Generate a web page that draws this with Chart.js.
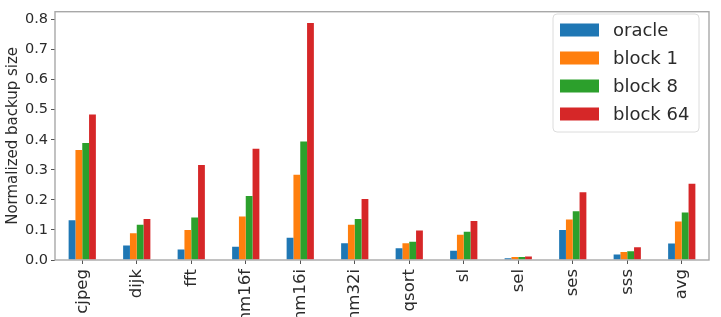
<!DOCTYPE html>
<html>
<head>
<meta charset="utf-8">
<script src="https://cdn.jsdelivr.net/npm/chart.js@4"></script>
<style>
  html, body { margin: 0; padding: 0; background: #fff; overflow: hidden; }
  canvas { display: block; }
</style>
</head>
<body>
<canvas id="c" width="721" height="317"></canvas>
<script>
const categories = ["cjpeg", "dijk", "fft", "nm16f", "nm16i", "nm32i", "qsort", "sl", "sel", "ses", "sss", "avg"];
const oracle  = [0.132, 0.048, 0.035, 0.044, 0.074, 0.056, 0.039, 0.031, 0.006, 0.100, 0.018, 0.055];
const block1  = [0.366, 0.089, 0.100, 0.145, 0.284, 0.117, 0.056, 0.084, 0.010, 0.135, 0.027, 0.128];
const block8  = [0.389, 0.117, 0.141, 0.213, 0.394, 0.136, 0.061, 0.094, 0.010, 0.162, 0.029, 0.158];
const block64 = [0.484, 0.136, 0.316, 0.370, 0.788, 0.203, 0.098, 0.130, 0.012, 0.225, 0.042, 0.254];
const seriesNames = ["oracle", "block 1", "block 8", "block 64"];
const yTicks = [0.0, 0.1, 0.2, 0.3, 0.4, 0.5, 0.6, 0.7, 0.8];
const yTitle = "Normalized backup size";

const colors = ["#1f77b4", "#ff7f0e", "#2ca02c", "#d62728"];
const FONT = "'DejaVu Sans', sans-serif";
const TXT = "#2b2b2b";
const SPINE = "#a8a8a8";

const frameAndLegend = {
  id: 'frameAndLegend',
  afterDraw(chart) {
    const ctx = chart.ctx;
    const a = chart.chartArea;
    ctx.save();
    ctx.strokeStyle = SPINE;
    ctx.lineWidth = 1.4;
    ctx.strokeRect(a.left, a.top, a.right - a.left, a.bottom - a.top);
    // legend
    const bx = 553, by = 14, bw = 146, bh = 118, r = 4;
    ctx.beginPath();
    ctx.moveTo(bx + r, by);
    ctx.arcTo(bx + bw, by, bx + bw, by + bh, r);
    ctx.arcTo(bx + bw, by + bh, bx, by + bh, r);
    ctx.arcTo(bx, by + bh, bx, by, r);
    ctx.arcTo(bx, by, bx + bw, by, r);
    ctx.closePath();
    ctx.fillStyle = "rgba(255,255,255,0.85)";
    ctx.fill();
    ctx.strokeStyle = "#dcdcdc";
    ctx.lineWidth = 1;
    ctx.stroke();
    ctx.font = "18px " + FONT;
    ctx.textBaseline = "middle";
    ctx.textAlign = "left";
    chart.data.datasets.forEach((ds, i) => {
      const cy = 30 + i * 28;
      ctx.fillStyle = ds.backgroundColor;
      ctx.fillRect(560, cy - 6.5, 39, 13);
      ctx.fillStyle = TXT;
      ctx.fillText(ds.label, 613, cy + 1);
    });
    ctx.restore();
  }
};

const valuesList = [oracle, block1, block8, block64];
new Chart(document.getElementById('c'), {
  type: 'bar',
  data: {
    labels: categories,
    datasets: seriesNames.map((n, i) => ({
      label: n,
      data: valuesList[i],
      backgroundColor: colors[i],
      borderWidth: 0,
      categoryPercentage: 0.5,
      barPercentage: 1.0
    }))
  },
  options: {
    responsive: false,
    devicePixelRatio: 1,
    animation: false,
    layout: { padding: { left: 0, top: 4, right: 12, bottom: 0 } },
    plugins: { legend: { display: false }, tooltip: { enabled: false } },
    scales: {
      x: {
        afterFit(s) { s.height = 57; },
        grid: { display: true, drawOnChartArea: false, drawTicks: true, tickLength: 4, offset: false, color: "#555" },
        border: { display: false },
        ticks: {
          autoSkip: false, minRotation: 90, maxRotation: 90, padding: 5,
          color: TXT, font: { family: FONT, size: 16.5 }
        }
      },
      y: {
        min: 0, max: 0.826,
        afterFit(s) { s.width = 55; },
        afterBuildTicks(s) { s.ticks = yTicks.map(v => ({ value: v })); },
        grid: { display: true, drawOnChartArea: false, drawTicks: true, tickLength: 4, color: "#555" },
        border: { display: false },
        ticks: {
          includeBounds: false, padding: 3,
          color: TXT, font: { family: FONT, size: 14.5 },
          callback: v => Number(v).toFixed(1)
        },
        title: {
          display: true, text: yTitle, color: TXT,
          font: { family: FONT, size: 15 }, padding: { top: 4, bottom: 0 }
        }
      }
    }
  },
  plugins: [frameAndLegend]
});
</script>
</body>
</html>
